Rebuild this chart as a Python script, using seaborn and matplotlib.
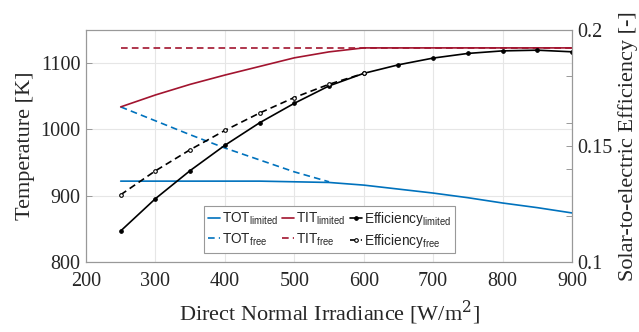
import numpy as np
import pandas as pd
import matplotlib
matplotlib.use("Agg")
import matplotlib.pyplot as plt
import seaborn as sns
from matplotlib.ticker import FixedLocator

# data
dni = [250, 300, 350, 400, 450, 500, 550, 600, 650, 700, 750, 800, 850, 900]
tot_limited = [922, 922, 922, 922, 922, 921, 920, 916, 910, 904, 897, 889, 882, 874]
tit_limited = [1034, 1052, 1068, 1082, 1095, 1108, 1117, 1123, 1123, 1123, 1123, 1123, 1123, 1123]
eff_limited = [0.1134, 0.1273, 0.1394, 0.1503, 0.1600, 0.1684, 0.1759, 0.1813,
               0.1850, 0.1879, 0.1899, 0.1910, 0.1913, 0.1906]

dni_free = [250, 300, 350, 400, 450, 500, 550]
tot_free = [1034, 1013, 992, 972, 954, 936, 921]
tit_free = [1123] * len(dni)
dni_eff_free = [250, 300, 350, 400, 450, 500, 550, 600]
eff_free = [0.1290, 0.1393, 0.1484, 0.1567, 0.1642, 0.1709, 0.1766, 0.1813]

blue = "#0072BD"
red = "#A2142F"

sns.set_theme(style="white")
serif = ["Liberation Serif", "DejaVu Serif"]
plt.rcParams["font.family"] = serif
plt.rcParams["mathtext.fontset"] = "custom"
plt.rcParams["mathtext.rm"] = "Liberation Sans"

fig = plt.figure(figsize=(6.39, 3.32), dpi=100)
ax = fig.add_axes([86 / 639, 70 / 332, 486 / 639, 232 / 332])
ax2 = ax.twinx()

lw = 1.2
ms = 2.6
dash = (4, 2.5)
sns.lineplot(x=dni, y=tot_limited, ax=ax, color=blue, lw=lw, label="TOT$_{\\mathrm{limited}}$")
sns.lineplot(x=dni_free, y=tot_free, ax=ax, color=blue, lw=lw, label="TOT$_{\\mathrm{free}}$")
sns.lineplot(x=dni, y=tit_limited, ax=ax, color=red, lw=lw, label="TIT$_{\\mathrm{limited}}$")
sns.lineplot(x=dni, y=tit_free, ax=ax, color=red, lw=lw, label="TIT$_{\\mathrm{free}}$")
sns.lineplot(x=dni, y=eff_limited, ax=ax2, color="black", lw=lw, marker="o", markersize=ms,
             markeredgecolor="black", label="Efficiency$_{\\mathrm{limited}}$")
sns.lineplot(x=dni_eff_free, y=eff_free, ax=ax2, color="black", lw=lw, marker="o", markersize=ms,
             markerfacecolor="white", markeredgecolor="black", markeredgewidth=0.8,
             label="Efficiency$_{\\mathrm{free}}$")

ax.lines[1].set_dashes(dash)
ax.lines[3].set_dashes(dash)
ax2.lines[1].set_dashes(dash)

ax.set_xlim(200, 900)
ax.set_ylim(800, 1150)
ax2.set_ylim(0.1, 0.2)
ax.set_xticks([200, 300, 400, 500, 600, 700, 800, 900])
ax.set_yticks([800, 900, 1000, 1100])
ax2.set_yticks([0.1, 0.15, 0.2])
ax2.set_yticklabels(["0.1", "0.15", "0.2"])
ax2.yaxis.set_minor_locator(FixedLocator([0.12, 0.14, 0.16, 0.18]))

ax.grid(True, color="#e6e6e6", lw=0.8)
ax.set_axisbelow(True)
for a in (ax, ax2):
    for s in a.spines.values():
        s.set_color("#999999")
        s.set_linewidth(0.8)
    a.tick_params(direction="in", length=4, width=0.7, color="#999999",
                  labelsize=14.5, labelcolor="#262626", pad=4)
ax.tick_params(axis="x", pad=7)
ax2.tick_params(axis="y", which="minor", direction="in", length=4, width=0.7,
                color="#999999", right=True)
ax.tick_params(top=False, right=False)

ax.set_xlabel("Direct Normal Irradiance [W/m$^2$]", fontsize=16, color="#262626", labelpad=6)
ax.set_ylabel("Temperature [K]", fontsize=16, color="#262626", labelpad=4)
ax2.set_ylabel("Solar-to-electric Efficiency [-]", fontsize=16, color="#262626", labelpad=4)
ax.xaxis.label.set_math_fontfamily("dejavuserif")

h1, l1 = ax.get_legend_handles_labels()
h2, l2 = ax2.get_legend_handles_labels()
ax.get_legend().remove()
ax2.get_legend().remove()
handles = [h1[0], h1[1], h1[2], h1[3], h2[0], h2[1]]
labels = [l1[0], l1[1], l1[2], l1[3], l2[0], l2[1]]
leg = ax2.legend(handles, labels, ncol=3, loc="lower left", bbox_to_anchor=(0.243, 0.038),
                 borderaxespad=0,
                 prop={"family": ["Liberation Sans", "DejaVu Sans"], "size": 9.8},
                 frameon=True, fancybox=False, edgecolor="#999999", framealpha=1,
                 handlelength=0.9, handletextpad=0.15, columnspacing=0.3,
                 labelspacing=0.3, borderpad=0.25)
leg.get_frame().set_linewidth(0.8)

fig.savefig("out.png", dpi=100)
